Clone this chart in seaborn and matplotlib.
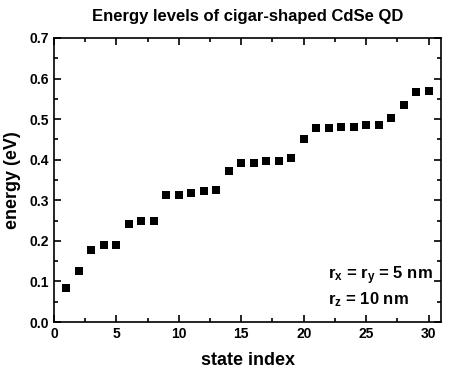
import pandas as pd
import matplotlib
matplotlib.use("Agg")
import matplotlib.pyplot as plt
import seaborn as sns
from matplotlib.ticker import MultipleLocator

# state index and energy (eV)
state_index = list(range(1, 31))
energy = [0.085, 0.125, 0.177, 0.190, 0.190, 0.242, 0.248, 0.248, 0.314, 0.314,
          0.317, 0.322, 0.326, 0.372, 0.392, 0.392, 0.397, 0.398, 0.404, 0.451,
          0.477, 0.478, 0.480, 0.480, 0.486, 0.486, 0.503, 0.535, 0.567, 0.570]

sns.set_style("ticks")
plt.rcParams["font.family"] = ["Liberation Sans", "DejaVu Sans"]
plt.rcParams["font.weight"] = "bold"
plt.rcParams["mathtext.fontset"] = "custom"
plt.rcParams["mathtext.rm"] = "Liberation Sans:bold"
plt.rcParams["mathtext.bf"] = "Liberation Sans:bold"
plt.rcParams["mathtext.default"] = "bf"
for key in ["text.color", "axes.labelcolor", "xtick.color", "ytick.color",
            "axes.edgecolor"]:
    plt.rcParams[key] = "black"

df = pd.DataFrame({"state": state_index, "energy": energy})

fig = plt.figure(figsize=(4.52, 3.74), dpi=100)
ax = fig.add_axes([0.1195, 0.139, 0.8562, 0.7594])

sns.scatterplot(data=df, x="state", y="energy", marker="s", s=30,
                color="black", edgecolor="black", linewidth=0, ax=ax)

ax.set_xlim(0, 31)
ax.set_ylim(0, 0.7)
ax.xaxis.set_major_locator(MultipleLocator(5))
ax.xaxis.set_minor_locator(MultipleLocator(2.5))
ax.yaxis.set_major_locator(MultipleLocator(0.1))
ax.yaxis.set_minor_locator(MultipleLocator(0.05))
ax.tick_params(which="both", direction="in", top=True, right=True, width=1.2)
ax.tick_params(which="major", length=5, labelsize=10)
ax.tick_params(which="minor", length=3)
for lab in ax.get_xticklabels() + ax.get_yticklabels():
    lab.set_fontweight("bold")
for sp in ax.spines.values():
    sp.set_linewidth(1.2)
    sp.set_visible(True)

ax.set_xlabel("state index", fontsize=13, fontweight="bold", labelpad=8)
ax.set_ylabel("energy (eV)", fontsize=13, fontweight="bold", labelpad=6)
ax.set_title("Energy levels of cigar-shaped CdSe QD", fontsize=12,
             fontweight="bold", pad=12)

ax.text(0.708, 0.15, r"r$_{x}$ = r$_{y}$ = 5 nm", transform=ax.transAxes,
        fontsize=12, fontweight="bold", va="baseline")
ax.text(0.708, 0.062, r"r$_{z}$ = 10 nm", transform=ax.transAxes,
        fontsize=12, fontweight="bold", va="baseline")

fig.savefig("out.png", dpi=100)
